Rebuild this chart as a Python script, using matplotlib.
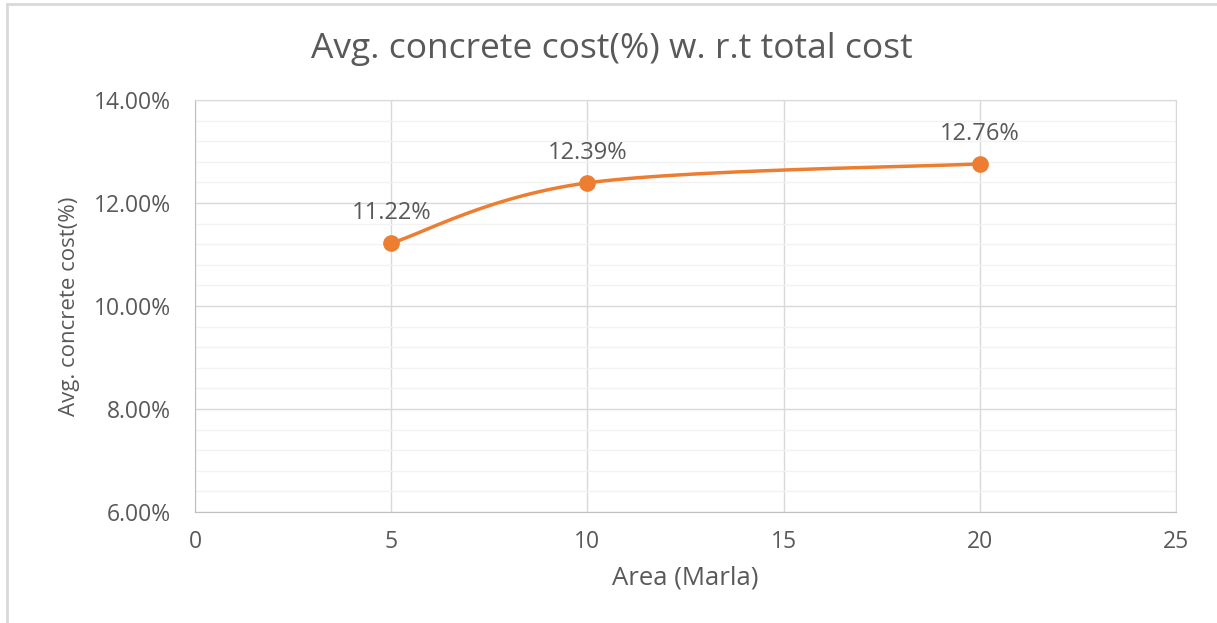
import numpy as np
import matplotlib.pyplot as plt
from matplotlib.ticker import MultipleLocator, FuncFormatter
from matplotlib.lines import Line2D

area = [5, 10, 20]
concrete_pct = [11.22, 12.39, 12.76]
labels = ['11.22%', '12.39%', '12.76%']

orange = '#ED7D31'
txt = '#595959'

plt.rcParams['font.family'] = ['Open Sans', 'DejaVu Sans']

fig = plt.figure(figsize=(12.17, 6.23), dpi=100)
ax = fig.add_axes([0.1602, 0.1782, 0.9663 - 0.1602, 0.8395 - 0.1782])
ax.set_xlim(0, 25)
ax.set_ylim(6, 14)


def smooth_curve(xs, ys, n=60):
    # bezier smoothing done in screen space so the shape doesn't depend on axis scaling
    pts = ax.transData.transform(np.column_stack([xs, ys]))
    p = np.vstack([pts[0], pts, pts[-1]])
    out = []
    for i in range(1, len(p) - 2):
        p0, p1, p2, p3 = p[i - 1], p[i], p[i + 1], p[i + 2]
        c1 = p1 + (p2 - p0) / 6
        c2 = p2 - (p3 - p1) / 6
        t = np.linspace(0, 1, n)[:, None]
        seg = ((1 - t) ** 3) * p1 + 3 * ((1 - t) ** 2) * t * c1 + 3 * (1 - t) * t ** 2 * c2 + t ** 3 * p2
        out.append(seg)
    curve = np.vstack(out)
    return ax.transData.inverted().transform(curve)


curve = smooth_curve(area, concrete_pct)
ax.plot(curve[:, 0], curve[:, 1], color=orange, lw=2.5, solid_capstyle='round', zorder=3)
ax.plot(area, concrete_pct, 'o', color=orange, ms=11, zorder=4)

for x, y, lab in zip(area, concrete_pct, labels):
    ax.annotate(lab, (x, y), xytext=(0, 13), textcoords='offset points',
                ha='center', va='bottom', fontsize=17, color=txt)

ax.xaxis.set_major_locator(MultipleLocator(5))
ax.yaxis.set_major_locator(MultipleLocator(2))
ax.yaxis.set_minor_locator(MultipleLocator(0.4))
ax.yaxis.set_major_formatter(FuncFormatter(lambda v, p: f'{v:.2f}%'))
ax.grid(which='major', color='#D9D9D9', lw=1.0)
ax.grid(which='minor', axis='y', color='#F2F2F2', lw=1.0)
ax.set_axisbelow(True)
ax.tick_params(which='both', length=0, labelsize=16.5, colors=txt)
ax.tick_params(axis='y', pad=17)
ax.tick_params(axis='x', pad=13)

for s in ['top', 'right']:
    ax.spines[s].set_color('#D9D9D9')
for s in ['left', 'bottom']:
    ax.spines[s].set_color('#BFBFBF')

ax.set_xlabel('Area (Marla)', fontsize=18.5, color=txt, labelpad=8)
ax.set_ylabel('Avg. concrete cost(%)', fontsize=16, color=txt, labelpad=10)
fig.text(0.503, 0.922, 'Avg. concrete cost(%) w. r.t total cost', fontsize=25.5, color=txt,
         ha='center', va='center')

# chart frame edges
fig.add_artist(Line2D([0.006, 0.006], [0, 0.994], color='#D9D9D9', lw=2, transform=fig.transFigure))
fig.add_artist(Line2D([0.006, 1], [0.994, 0.994], color='#D9D9D9', lw=2, transform=fig.transFigure))

fig.savefig('out.png', dpi=100)
